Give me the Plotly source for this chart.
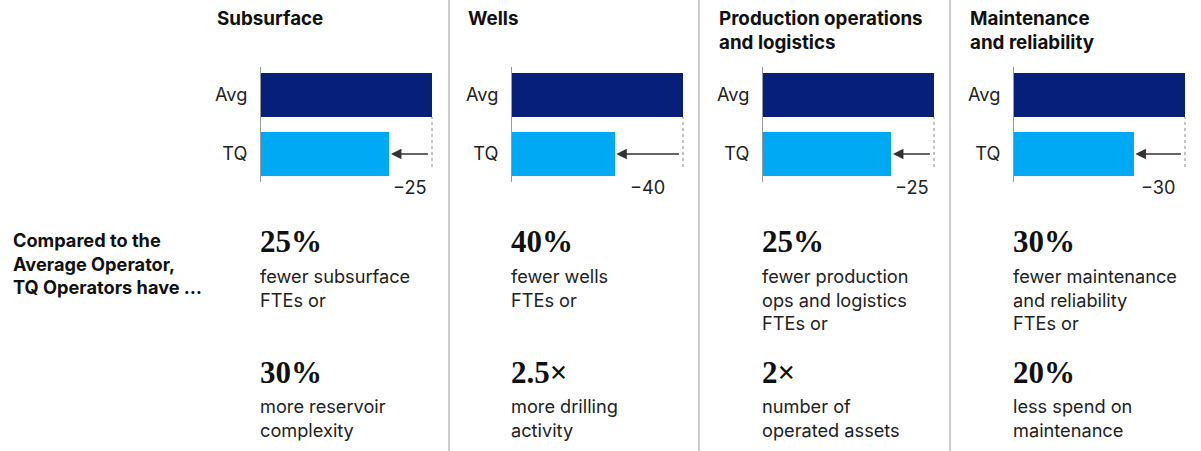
import plotly.graph_objects as go

# ---- data ----
panel_titles = ["Subsurface", "Wells", "Production operations<br>and logistics",
                "Maintenance<br>and reliability"]
row_labels = ["TQ", "Avg"]
avg_values = [100, 100, 100, 100]
tq_values = [75, 60, 75, 70]
headline_1 = ["25%", "40%", "25%", "30%"]
detail_1 = ["fewer subsurface<br>FTEs or", "fewer wells<br>FTEs or",
            "fewer production<br>ops and logistics<br>FTEs or",
            "fewer maintenance<br>and reliability<br>FTEs or"]
headline_2 = ["30%", "2.5×", "2×", "20%"]
detail_2 = ["more reservoir<br>complexity", "more drilling<br>activity",
            "number of<br>operated assets", "less spend on<br>maintenance"]
intro_text = "Compared to the<br>Average Operator,<br>TQ Operators have …"

# ---- styling ----
W, H = 1201, 451
NAVY = "#061F79"
SKY = "#00A9F4"
SANS = "Inter, Liberation Sans, Arial, sans-serif"
SERIF = "Liberation Serif, Times New Roman, serif"
TEXT = "#222222"
BODY_SIZE = 18.2

def px_x(p):
    return p / W

def px_y(p):
    return 1 - p / H

axis_left = [261, 512, 763, 1014]
px_per_unit = 1.71
x_max = 105
plot_top, plot_bottom = 67, 182
y_range = [-0.475, 1.475]

fig = go.Figure()
annotations = []
shapes = []

for i in range(4):
    sfx = "" if i == 0 else str(i + 1)
    xa, ya = "x" + sfx, "y" + sfx
    fig.add_trace(go.Bar(
        x=[tq_values[i], avg_values[i]], y=row_labels, orientation="h",
        marker=dict(color=[SKY, NAVY], line=dict(width=0)),
        width=0.746, xaxis=xa, yaxis=ya, hoverinfo="skip", showlegend=False,
    ))
    left = axis_left[i]
    right = left + x_max * px_per_unit
    fig.layout["xaxis" + sfx] = dict(
        domain=[px_x(left), px_x(right)], range=[0, x_max], visible=False,
        anchor=ya, fixedrange=True,
    )
    fig.layout["yaxis" + sfx] = dict(
        domain=[px_y(plot_bottom), px_y(plot_top)], range=y_range,
        type="category", categoryarray=row_labels, anchor=xa,
        showline=True, linecolor="#9a9a9a", linewidth=1, showgrid=False,
        zeroline=False, ticks="", ticklabelstandoff=9,
        tickfont=dict(family=SANS, size=BODY_SIZE, color=TEXT), fixedrange=True,
    )

    # dashed reference from the end of the Avg bar
    shapes.append(dict(type="line", xref=xa, yref=ya,
                       x0=avg_values[i], x1=avg_values[i], y0=-0.22, y1=0.627,
                       line=dict(color="#8a8a8a", width=1, dash="dot")))
    # arrow from the Avg level back to the TQ bar end
    annotations.append(dict(x=tq_values[i] + 1, y=0, ax=avg_values[i] - 1.5, ay=0,
                            xref=xa, yref=ya, axref=xa, ayref=ya, text="",
                            showarrow=True, arrowhead=2, arrowsize=1.4,
                            arrowwidth=1.5, arrowcolor="#333333"))
    # difference label
    diff = tq_values[i] - avg_values[i]
    annotations.append(dict(x=(tq_values[i] + avg_values[i]) / 2 - 0.5, y=px_y(187),
                            xref=xa, yref="paper", text="\u2212" + str(abs(diff)),
                            showarrow=False, xanchor="center", yanchor="middle",
                            font=dict(family=SANS, size=BODY_SIZE, color=TEXT)))

    # panel title
    annotations.append(dict(x=px_x(left - 46), y=px_y(5), xref="paper", yref="paper",
                            text="<b>" + panel_titles[i] + "</b>", showarrow=False,
                            xanchor="left", yanchor="top", align="left",
                            font=dict(family=SANS, size=18.8, color="#111111")))

    # findings
    annotations.append(dict(x=px_x(left - 3), y=px_y(241), xref="paper", yref="paper",
                            text="<b>" + headline_1[i] + "</b>", showarrow=False,
                            xanchor="left", yanchor="middle",
                            font=dict(family=SERIF, size=31, color="#111111")))
    annotations.append(dict(x=px_x(left - 3), y=px_y(263), xref="paper", yref="paper",
                            text=detail_1[i], showarrow=False, xanchor="left",
                            yanchor="top", align="left",
                            font=dict(family=SANS, size=BODY_SIZE, color=TEXT)))
    annotations.append(dict(x=px_x(left - 3), y=px_y(372), xref="paper", yref="paper",
                            text="<b>" + headline_2[i] + "</b>", showarrow=False,
                            xanchor="left", yanchor="middle",
                            font=dict(family=SERIF, size=31, color="#111111")))
    annotations.append(dict(x=px_x(left - 3), y=px_y(393), xref="paper", yref="paper",
                            text=detail_2[i], showarrow=False, xanchor="left",
                            yanchor="top", align="left",
                            font=dict(family=SANS, size=BODY_SIZE, color=TEXT)))

# column separators
for sx in [449, 699, 950]:
    shapes.append(dict(type="line", xref="paper", yref="paper",
                       x0=px_x(sx), x1=px_x(sx), y0=0, y1=1,
                       line=dict(color="#bdbdbd", width=1.5)))

annotations.append(dict(x=px_x(11), y=px_y(263), xref="paper", yref="paper",
                        text="<b>" + intro_text + "</b>", showarrow=False,
                        xanchor="left", yanchor="middle", align="left",
                        font=dict(family=SANS, size=BODY_SIZE, color="#111111")))

fig.update_layout(
    width=W, height=H, margin=dict(l=0, r=0, t=0, b=0),
    paper_bgcolor="white", plot_bgcolor="white",
    annotations=annotations, shapes=shapes, bargap=0,
)

fig.write_html("out.html", config={"displayModeBar": False})
